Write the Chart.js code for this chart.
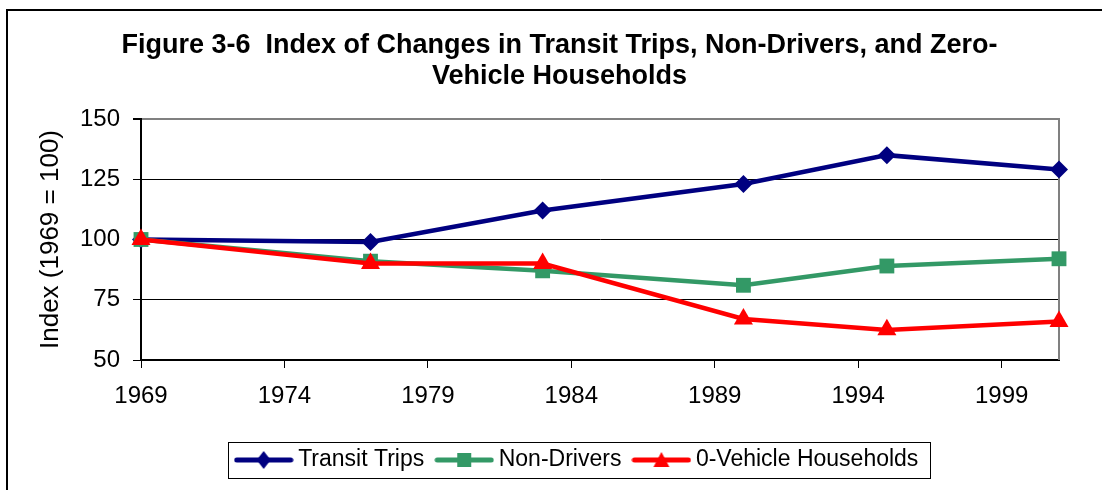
<!DOCTYPE html>
<html lang="en">
<head>
<meta charset="UTF-8">
<title>Figure 3-6 Index of Changes</title>
<script src="https://cdn.jsdelivr.net/npm/chart.js"></script>
<style>
    * {
        margin: 0;
        padding: 0;
        box-sizing: border-box;
    }

    body {
        background: #fff;
        width: 1102px;
        height: 490px;
        overflow: hidden;
    }

    .chart-box {
        position: relative;
        width: 1102px;
        height: 490px;
    }
</style>
</head>
<body>
<div class="chart-box">
    <canvas id="indexChart"></canvas>
</div>

<script>
    // values (index, 1969 = 100)
    const years = [1969, 1977, 1983, 1990, 1995, 2001];
    const transitTrips = [100, 99, 112, 123, 135, 129];
    const nonDrivers = [100, 91, 87, 81, 89, 92];
    const zeroVehicle = [100, 90, 90, 67, 62.5, 66];
    const seriesNames = ['Transit Trips', 'Non-Drivers', '0-Vehicle Households'];
    const yearTicks = [1969, 1974, 1979, 1984, 1989, 1994, 1999];
    const indexTicks = [50, 75, 100, 125, 150];

    const FONT = "'Liberation Sans', Arial, sans-serif";
    const NAVY = '#000080';
    const GREEN = '#339966';
    const RED = '#ff0000';

    function toPoints(values) {
        return years.map((yr, i) => ({ x: yr, y: values[i] }));
    }

    // little line + marker picture for each legend entry
    function legendIcon(color, shape) {
        const c = document.createElement('canvas');
        c.width = 60;
        c.height = 22;
        const g = c.getContext('2d');
        g.strokeStyle = color;
        g.fillStyle = color;
        g.lineWidth = 5;
        g.lineCap = 'round';
        g.beginPath();
        g.moveTo(3, 11);
        g.lineTo(57, 11);
        g.stroke();
        g.beginPath();
        if (shape === 'diamond') {
            g.moveTo(30, 2);
            g.lineTo(37, 11);
            g.lineTo(30, 20);
            g.lineTo(23, 11);
        } else if (shape === 'square') {
            g.rect(23, 4, 14, 14);
        } else {
            g.moveTo(30, 3);
            g.lineTo(38, 18);
            g.lineTo(22, 18);
        }
        g.closePath();
        g.fill();
        return c;
    }

    const icons = [legendIcon(NAVY, 'diamond'), legendIcon(GREEN, 'square'), legendIcon(RED, 'triangle')];

    const figurePlugin = {
        id: 'figureFrame',
        beforeDraw(chart) {
            const ctx = chart.ctx;
            ctx.save();
            ctx.fillStyle = '#fff';
            ctx.fillRect(0, 0, chart.width, chart.height);
            ctx.fillStyle = '#000';
            ctx.fillRect(6, 9, chart.width - 6, 2);
            ctx.fillRect(6, 9, 2, chart.height - 9);
            ctx.restore();
        },
        afterLayout(chart) {
            // Excel centred title and legend a bit off the plot centre
            chart.titleBlock.left += 30;
            chart.titleBlock.right += 30;
            chart.legend.left += 50;
            chart.legend.right += 50;
        },
        beforeDatasetsDraw(chart) {
            const { ctx, chartArea } = chart;
            ctx.save();
            ctx.strokeStyle = '#808080';
            ctx.lineWidth = 2;
            ctx.beginPath();
            ctx.moveTo(chartArea.right, chartArea.top - 1);
            ctx.lineTo(chartArea.right, chartArea.bottom);
            ctx.stroke();
            ctx.restore();
        },
        afterDraw(chart) {
            const boxes = chart.legend.legendHitBoxes;
            if (!boxes || !boxes.length) return;
            const first = boxes[0];
            const last = boxes[boxes.length - 1];
            const cy = first.top + first.height / 2;
            const ctx = chart.ctx;
            ctx.save();
            ctx.strokeStyle = '#000';
            ctx.lineWidth = 1;
            ctx.strokeRect(Math.round(first.left - 13) + 0.5, Math.round(cy - 18) + 0.5,
                Math.round(last.left + last.width + 11 - (first.left - 13)), 36);
            ctx.restore();
        }
    };

    const ctx = document.getElementById('indexChart').getContext('2d');
    new Chart(ctx, {
        type: 'line',
        data: {
            datasets: [{
                label: seriesNames[0],
                data: toPoints(transitTrips),
                borderColor: NAVY,
                backgroundColor: NAVY,
                borderWidth: 4.5,
                pointStyle: 'rectRot',
                pointRadius: 9,
                pointBorderWidth: 0,
                order: 3,
                clip: false
            }, {
                label: seriesNames[1],
                data: toPoints(nonDrivers),
                borderColor: GREEN,
                backgroundColor: GREEN,
                borderWidth: 4.5,
                pointStyle: 'rect',
                pointRadius: 10.5,
                pointBorderWidth: 0,
                order: 2,
                clip: false
            }, {
                label: seriesNames[2],
                data: toPoints(zeroVehicle),
                borderColor: RED,
                backgroundColor: RED,
                borderWidth: 4.5,
                pointStyle: 'triangle',
                pointRadius: 11,
                pointBorderWidth: 0,
                order: 1,
                clip: false
            }]
        },
        options: {
            responsive: true,
            maintainAspectRatio: false,
            animation: false,
            events: [],
            layout: {
                padding: { top: 14, right: 43, bottom: 8.5, left: 0 }
            },
            scales: {
                x: {
                    type: 'linear',
                    min: years[0],
                    max: years[years.length - 1],
                    afterBuildTicks: scale => {
                        scale.ticks = yearTicks.map(v => ({ value: v }));
                    },
                    afterFit: scale => {
                        scale.height = 71.5;
                    },
                    ticks: {
                        color: '#000',
                        padding: 14,
                        maxRotation: 0,
                        autoSkip: false,
                        font: { family: FONT, size: 24 },
                        callback: v => String(v)
                    },
                    grid: {
                        drawOnChartArea: false,
                        drawTicks: true,
                        tickLength: 8,
                        color: '#000',
                        lineWidth: 1
                    },
                    border: { color: '#000', width: 2 }
                },
                y: {
                    min: 50,
                    max: 150,
                    afterBuildTicks: scale => {
                        scale.ticks = indexTicks.map(v => ({ value: v }));
                    },
                    afterFit: scale => {
                        scale.width = 141;
                    },
                    ticks: {
                        color: '#000',
                        padding: 13,
                        font: { family: FONT, size: 24 }
                    },
                    grid: {
                        color: c => c.tick && c.tick.value === 150 ? '#808080' : '#000',
                        lineWidth: c => c.tick && c.tick.value === 150 ? 2 : 1,
                        tickColor: '#000',
                        tickLength: 8
                    },
                    border: { color: '#000', width: 2 },
                    title: {
                        display: true,
                        text: 'Index (1969 = 100)',
                        color: '#000',
                        font: { family: FONT, size: 26 },
                        padding: { top: 35, bottom: 0 }
                    }
                }
            },
            plugins: {
                title: {
                    display: true,
                    text: ['Figure 3-6  Index of Changes in Transit Trips, Non-Drivers, and Zero-', 'Vehicle Households'],
                    color: '#000',
                    font: { family: FONT, size: 27, weight: 'bold', lineHeight: 1.148 },
                    padding: { top: 16, bottom: 27 }
                },
                legend: {
                    position: 'bottom',
                    labels: {
                        usePointStyle: true,
                        pointStyleWidth: 46,
                        padding: 17,
                        color: '#000',
                        font: { family: FONT, size: 23 },
                        generateLabels: chart => chart.data.datasets.map((ds, i) => ({
                            text: ds.label,
                            pointStyle: icons[i],
                            fillStyle: ds.borderColor,
                            strokeStyle: ds.borderColor,
                            lineWidth: 0,
                            hidden: false,
                            datasetIndex: i,
                            fontColor: '#000'
                        }))
                    }
                },
                tooltip: { enabled: false }
            }
        },
        plugins: [figurePlugin]
    });
</script>
</body>
</html>
